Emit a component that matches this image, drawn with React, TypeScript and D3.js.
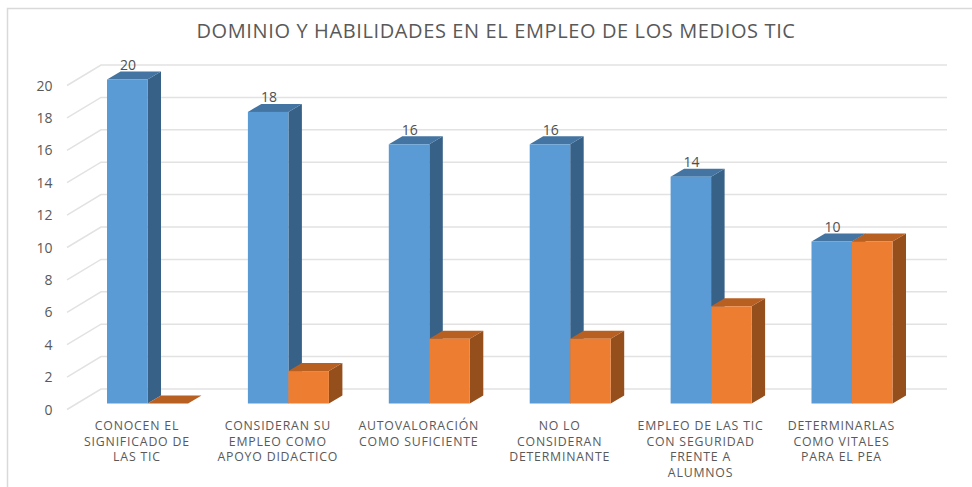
import React from "react";
import * as d3 from "d3";

const categories = [
  ["CONOCEN EL", "SIGNIFICADO DE", "LAS TIC"],
  ["CONSIDERAN SU", "EMPLEO COMO", "APOYO DIDACTICO"],
  ["AUTOVALORACIÓN", "COMO SUFICIENTE"],
  ["NO LO", "CONSIDERAN", "DETERMINANTE"],
  ["EMPLEO DE LAS TIC", "CON SEGURIDAD", "FRENTE A", "ALUMNOS"],
  ["DETERMINARLAS", "COMO VITALES", "PARA EL PEA"],
];
const seriesBlue = [20, 18, 16, 16, 14, 10];
const seriesOrange = [0, 2, 4, 4, 6, 10];
const ticks = [0, 2, 4, 6, 8, 10, 12, 14, 16, 18, 20];
const title = "DOMINIO Y HABILIDADES EN EL EMPLEO DE LOS MEDIOS TIC";

const font = "'Open Sans', 'Noto Sans', sans-serif";
const y = d3.scaleLinear().domain([0, 20]).range([403.5, 79.5]);
const x = d3.scaleBand<number>().domain(d3.range(6)).range([66.5, 911.9]).paddingInner(0).paddingOuter(0);
const barW = 40.5;
const dx = 13.5;
const dy = 8;
const gridBack = -14.5;

function Bar({ x0, v, front, top, side }: { x0: number; v: number; front: string; top: string; side: string }) {
  const yt = y(v);
  const yb = y(0);
  const x1 = x0 + barW;
  const lp = d3.line();
  return (
    <g>
      <path d={lp([[x1, yt], [x1 + dx, yt - dy], [x1 + dx, yb - dy], [x1, yb]])!} fill={side} />
      <path d={lp([[x0, yt], [x0 + dx, yt - dy], [x1 + dx, yt - dy], [x1, yt]])!} fill={top} />
      {v > 0 && <rect x={x0} y={yt} width={barW} height={yb - yt} fill={front} />}
    </g>
  );
}

export default function App() {
  return (
    <svg width={972} height={487} style={{ position: "absolute", left: 0, top: 0, background: "#fff" }}>
      <path d="M7.5,487V8.5H972" fill="none" stroke="#d9d9d9" strokeWidth={1.5} />
      <text x={496} y={38} textAnchor="middle" fontFamily={font} fontSize={20} letterSpacing={0.62} fill="#595959">{title}</text>
      {ticks.map((t) => (
        <g key={t}>
          <path
            d={`M67,${y(t) + 6}L101,${y(t) + gridBack}H947`}
            fill="none" stroke="#e2e2e2" strokeWidth={1.5}
          />
          <text x={52.5} y={y(t) + 11} textAnchor="end" fontFamily={font} fontSize={14} fill="#595959">{t}</text>
        </g>
      ))}
      {categories.map((lines, i) => {
        const x0 = x(i)! + 40.5;
        const cx = x(i)! + x.bandwidth() / 2;
        return (
          <g key={i}>
            <Bar x0={x0} v={seriesBlue[i]} front="#5b9bd5" top="#4475a2" side="#376186" />
            <Bar x0={x0 + barW} v={seriesOrange[i]} front="#ed7d31" top="#b85f22" side="#954f1d" />
            <text x={x0 + 21} y={y(seriesBlue[i]) - 9.5} textAnchor="middle" fontFamily={font} fontSize={14} fill="#505050">{seriesBlue[i]}</text>
            <text textAnchor="middle" fontFamily={font} fontSize={12.3} letterSpacing={0.8} fill="#595959">
              {lines.map((l, j) => (
                <tspan key={j} x={cx} y={430 + j * 15.7}>{l}</tspan>
              ))}
            </text>
          </g>
        );
      })}
    </svg>
  );
}
